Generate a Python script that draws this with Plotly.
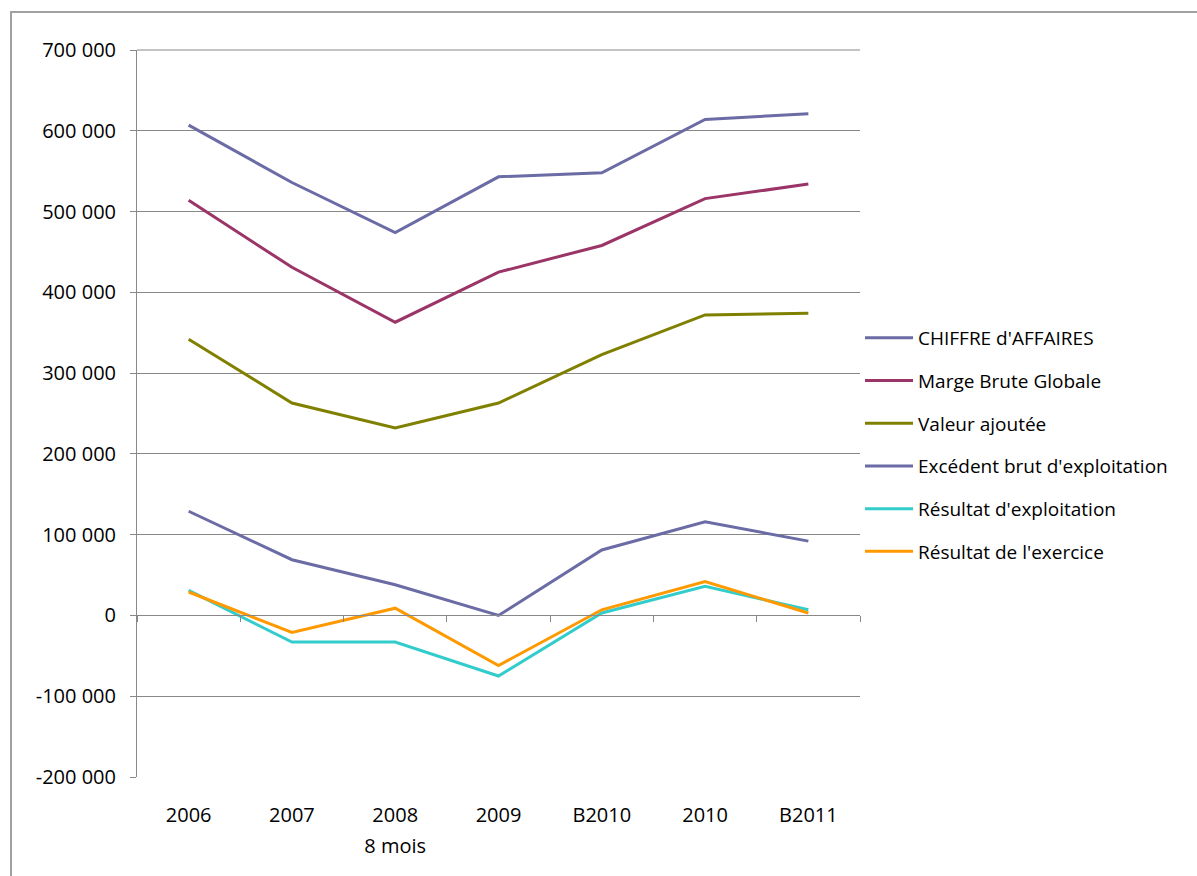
import plotly.graph_objects as go

categories = ["2006", "2007", "2008<br>8 mois", "2009", "B2010", "2010", "B2011"]
chiffre_affaires = [607000, 536000, 474000, 543000, 548000, 614000, 621000]
marge_brute = [514000, 431000, 363000, 425000, 458000, 516000, 534000]
valeur_ajoutee = [342000, 263000, 232000, 263000, 323000, 372000, 374000]
excedent_brut = [129000, 69000, 38000, 0, 81000, 116000, 92000]
resultat_exploitation = [31000, -33000, -33000, -75000, 3000, 36000, 7000]
resultat_exercice = [29000, -21000, 9000, -62000, 7000, 42000, 3000]

series_names = ["CHIFFRE d'AFFAIRES", "Marge Brute Globale", "Valeur ajoutée",
                "Excédent brut d'exploitation", "Résultat d'exploitation", "Résultat de l'exercice"]
series_values = [chiffre_affaires, marge_brute, valeur_ajoutee, excedent_brut,
                 resultat_exploitation, resultat_exercice]
series_colors = ["#6B6BA5", "#9B3467", "#808000", "#6B6BA5", "#33CCCC", "#FF9900"]

y_tickvals = [-200000, -100000, 0, 100000, 200000, 300000, 400000, 500000, 600000, 700000]
y_ticktext = ["-200 000", "-100 000", "0", "100 000", "200 000", "300 000",
              "400 000", "500 000", "600 000", "700 000"]

x_idx = list(range(len(categories)))
FONT = "Open Sans, Liberation Sans, Arial, sans-serif"

fig = go.Figure()
for i, (name, vals, col) in enumerate(zip(series_names, series_values, series_colors)):
    fig.add_trace(go.Scatter(
        x=x_idx, y=vals, mode="lines", name=name,
        line=dict(color=col, width=3),
        legendgroup=f"g{i}",
    ))

# category separator ticks on the axis line at y = 0
fig.add_trace(go.Scatter(x=[-0.5, 6.5], y=[None, None], xaxis="x2",
                         showlegend=False, hoverinfo="skip"))

x_ticktext = ["<span style='font-size:20px'>" + c.replace("<br>", "</span><br><span style='font-size:20px'>") + "</span>"
              for c in categories]

grey = "#888888"
fig.update_layout(
    width=1197, height=876,
    margin=dict(l=137, r=337, t=50, b=99),
    paper_bgcolor="white", plot_bgcolor="white",
    font=dict(family=FONT, size=19, color="#000000"),
    showlegend=True,
    legend=dict(x=1.0, xanchor="left", y=0.63, yanchor="top",
                font=dict(size=19, family=FONT, color="#000000"),
                tracegroupgap=15, itemwidth=48, bgcolor="rgba(0,0,0,0)"),
    xaxis=dict(range=[-0.5, 6.5], tickvals=x_idx, ticktext=x_ticktext,
               showgrid=False, zeroline=False, showline=False, ticks="",
               ticklabelstandoff=20,
               tickfont=dict(size=24, family=FONT, color="#000000")),
    xaxis2=dict(range=[-0.5, 6.5], overlaying="x", anchor="free", position=2/9,
                side="bottom", tickvals=[-0.5, 0.5, 1.5, 2.5, 3.5, 4.5, 5.5, 6.5],
                showticklabels=False, ticks="outside", ticklen=6, tickcolor=grey,
                showline=True, linecolor=grey, linewidth=1, showgrid=False, zeroline=False),
    yaxis=dict(range=[-200000, 700000], tickvals=y_tickvals, ticktext=y_ticktext,
               showgrid=True, gridcolor=grey, gridwidth=1, zeroline=False,
               showline=True, linecolor=grey, ticks="outside", ticklen=6, tickcolor=grey,
               ticklabelstandoff=10,
               tickfont=dict(size=20, family=FONT, color="#000000")),
)

# top gridline (700 000) which plotly does not draw at the range edge
fig.add_shape(type="line", xref="paper", yref="paper", x0=0, x1=1, y0=1, y1=1,
              line=dict(color=grey, width=1), layer="below")

# chart outer border
fig.add_shape(type="rect", xref="paper", yref="paper",
              x0=(11 - 137) / 723, x1=(1230 - 137) / 723,
              y0=(777 - 920) / 727, y1=(777 - 12) / 727,
              line=dict(color="#A0A0A0", width=2), fillcolor="rgba(0,0,0,0)", layer="below")

fig.write_html("out.html", config={"displayModeBar": False},
               post_script="document.body.style.margin='0';")
